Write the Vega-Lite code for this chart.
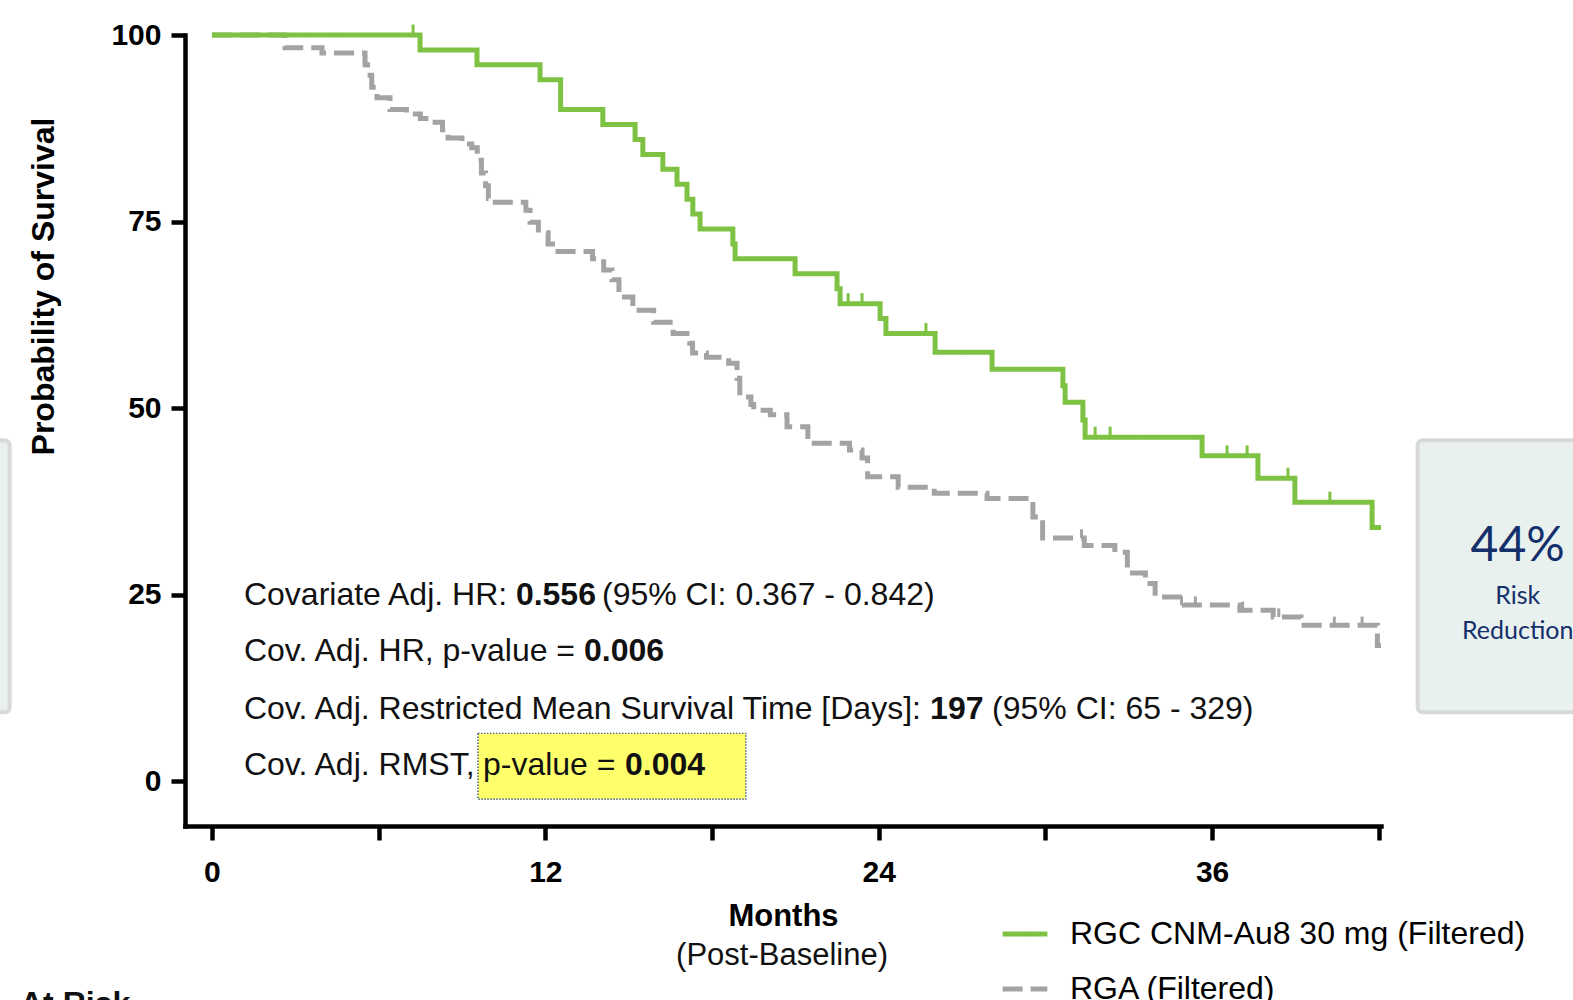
{
  "$schema": "https://vega.github.io/schema/vega-lite/v6.json",
  "width": 1196,
  "height": 791,
  "autosize": {"type": "none"},
  "padding": {"left": 185, "top": 35, "right": 192, "bottom": 174},
  "background": "white",
  "config": {
    "view": {"stroke": null},
    "font": "Liberation Sans",
    "axis": {"grid": false, "domainColor": "black", "tickColor": "black", "labelColor": "black", "titleColor": "black", "domainWidth": 4.5, "tickWidth": 4.5, "tickSize": 14, "labelFont": "Liberation Sans", "labelFontWeight": "bold", "labelFontSize": 30, "titleFont": "Liberation Sans", "titleFontWeight": "bold", "titleFontSize": 31, "domainCap": "square"}
  },
  "datasets": {
    "km": [
      {"s": "RGA (Filtered)", "x": 0, "y": 100},
      {"s": "RGA (Filtered)", "x": 2.63, "y": 98.3},
      {"s": "RGA (Filtered)", "x": 3.96, "y": 97.6},
      {"s": "RGA (Filtered)", "x": 5.51, "y": 96.0},
      {"s": "RGA (Filtered)", "x": 5.6, "y": 94.6},
      {"s": "RGA (Filtered)", "x": 5.75, "y": 93.0},
      {"s": "RGA (Filtered)", "x": 5.94, "y": 91.6},
      {"s": "RGA (Filtered)", "x": 6.41, "y": 90.0},
      {"s": "RGA (Filtered)", "x": 7.0, "y": 89.4},
      {"s": "RGA (Filtered)", "x": 7.5, "y": 88.8},
      {"s": "RGA (Filtered)", "x": 7.85, "y": 88.3},
      {"s": "RGA (Filtered)", "x": 8.3, "y": 87.3},
      {"s": "RGA (Filtered)", "x": 8.5, "y": 86.2},
      {"s": "RGA (Filtered)", "x": 9.0, "y": 85.4},
      {"s": "RGA (Filtered)", "x": 9.35, "y": 84.9},
      {"s": "RGA (Filtered)", "x": 9.55, "y": 83.2},
      {"s": "RGA (Filtered)", "x": 9.7, "y": 81.5},
      {"s": "RGA (Filtered)", "x": 9.85, "y": 79.8},
      {"s": "RGA (Filtered)", "x": 9.95, "y": 78.1},
      {"s": "RGA (Filtered)", "x": 10.2, "y": 77.6},
      {"s": "RGA (Filtered)", "x": 11.3, "y": 76.5},
      {"s": "RGA (Filtered)", "x": 11.45, "y": 74.9},
      {"s": "RGA (Filtered)", "x": 11.75, "y": 73.5},
      {"s": "RGA (Filtered)", "x": 12.1, "y": 72.0},
      {"s": "RGA (Filtered)", "x": 12.35, "y": 71.0},
      {"s": "RGA (Filtered)", "x": 13.7, "y": 70.0},
      {"s": "RGA (Filtered)", "x": 14.1, "y": 68.5},
      {"s": "RGA (Filtered)", "x": 14.4, "y": 67.2},
      {"s": "RGA (Filtered)", "x": 14.65, "y": 64.9},
      {"s": "RGA (Filtered)", "x": 15.15, "y": 63.1},
      {"s": "RGA (Filtered)", "x": 15.9, "y": 61.5},
      {"s": "RGA (Filtered)", "x": 16.6, "y": 60.0},
      {"s": "RGA (Filtered)", "x": 17.2, "y": 58.7},
      {"s": "RGA (Filtered)", "x": 17.3, "y": 57.4},
      {"s": "RGA (Filtered)", "x": 17.8, "y": 56.8},
      {"s": "RGA (Filtered)", "x": 18.6, "y": 56.0},
      {"s": "RGA (Filtered)", "x": 18.9, "y": 54.0},
      {"s": "RGA (Filtered)", "x": 19.0, "y": 51.5},
      {"s": "RGA (Filtered)", "x": 19.4, "y": 50.5},
      {"s": "RGA (Filtered)", "x": 19.5, "y": 49.7},
      {"s": "RGA (Filtered)", "x": 20.1, "y": 49.1},
      {"s": "RGA (Filtered)", "x": 20.7, "y": 47.5},
      {"s": "RGA (Filtered)", "x": 21.45, "y": 45.3},
      {"s": "RGA (Filtered)", "x": 22.95, "y": 44.4},
      {"s": "RGA (Filtered)", "x": 23.4, "y": 43.3},
      {"s": "RGA (Filtered)", "x": 23.6, "y": 40.8},
      {"s": "RGA (Filtered)", "x": 24.7, "y": 39.4},
      {"s": "RGA (Filtered)", "x": 26.0, "y": 38.6},
      {"s": "RGA (Filtered)", "x": 27.9, "y": 37.9},
      {"s": "RGA (Filtered)", "x": 29.55, "y": 35.4},
      {"s": "RGA (Filtered)", "x": 29.9, "y": 32.6},
      {"s": "RGA (Filtered)", "x": 31.4, "y": 31.6},
      {"s": "RGA (Filtered)", "x": 32.5, "y": 30.7},
      {"s": "RGA (Filtered)", "x": 32.95, "y": 27.9},
      {"s": "RGA (Filtered)", "x": 33.6, "y": 26.5},
      {"s": "RGA (Filtered)", "x": 33.95, "y": 24.7},
      {"s": "RGA (Filtered)", "x": 35.0, "y": 23.6},
      {"s": "RGA (Filtered)", "x": 37.0, "y": 22.9},
      {"s": "RGA (Filtered)", "x": 38.2, "y": 22.0},
      {"s": "RGA (Filtered)", "x": 39.2, "y": 20.9},
      {"s": "RGA (Filtered)", "x": 41.95, "y": 18.2},
      {"s": "RGA (Filtered)", "x": 42.08, "y": 18.2},
      {"s": "RGC CNM-Au8 30 mg (Filtered)", "x": 0, "y": 100},
      {"s": "RGC CNM-Au8 30 mg (Filtered)", "x": 7.49, "y": 98},
      {"s": "RGC CNM-Au8 30 mg (Filtered)", "x": 9.54, "y": 96},
      {"s": "RGC CNM-Au8 30 mg (Filtered)", "x": 11.81, "y": 94},
      {"s": "RGC CNM-Au8 30 mg (Filtered)", "x": 12.55, "y": 90},
      {"s": "RGC CNM-Au8 30 mg (Filtered)", "x": 14.07, "y": 88},
      {"s": "RGC CNM-Au8 30 mg (Filtered)", "x": 15.23, "y": 86},
      {"s": "RGC CNM-Au8 30 mg (Filtered)", "x": 15.51, "y": 84},
      {"s": "RGC CNM-Au8 30 mg (Filtered)", "x": 16.23, "y": 82},
      {"s": "RGC CNM-Au8 30 mg (Filtered)", "x": 16.74, "y": 80},
      {"s": "RGC CNM-Au8 30 mg (Filtered)", "x": 17.1, "y": 78},
      {"s": "RGC CNM-Au8 30 mg (Filtered)", "x": 17.31, "y": 76},
      {"s": "RGC CNM-Au8 30 mg (Filtered)", "x": 17.57, "y": 74},
      {"s": "RGC CNM-Au8 30 mg (Filtered)", "x": 18.75, "y": 72},
      {"s": "RGC CNM-Au8 30 mg (Filtered)", "x": 18.83, "y": 70},
      {"s": "RGC CNM-Au8 30 mg (Filtered)", "x": 20.99, "y": 68},
      {"s": "RGC CNM-Au8 30 mg (Filtered)", "x": 22.5, "y": 66},
      {"s": "RGC CNM-Au8 30 mg (Filtered)", "x": 22.61, "y": 64},
      {"s": "RGC CNM-Au8 30 mg (Filtered)", "x": 24.05, "y": 62},
      {"s": "RGC CNM-Au8 30 mg (Filtered)", "x": 24.26, "y": 60},
      {"s": "RGC CNM-Au8 30 mg (Filtered)", "x": 26.03, "y": 57.5},
      {"s": "RGC CNM-Au8 30 mg (Filtered)", "x": 28.08, "y": 55.2},
      {"s": "RGC CNM-Au8 30 mg (Filtered)", "x": 30.63, "y": 53},
      {"s": "RGC CNM-Au8 30 mg (Filtered)", "x": 30.71, "y": 50.8},
      {"s": "RGC CNM-Au8 30 mg (Filtered)", "x": 31.35, "y": 48.4},
      {"s": "RGC CNM-Au8 30 mg (Filtered)", "x": 31.43, "y": 46.1},
      {"s": "RGC CNM-Au8 30 mg (Filtered)", "x": 35.64, "y": 43.6},
      {"s": "RGC CNM-Au8 30 mg (Filtered)", "x": 37.65, "y": 40.6},
      {"s": "RGC CNM-Au8 30 mg (Filtered)", "x": 38.98, "y": 37.4},
      {"s": "RGC CNM-Au8 30 mg (Filtered)", "x": 41.76, "y": 34.0},
      {"s": "RGC CNM-Au8 30 mg (Filtered)", "x": 42.08, "y": 34.0}
    ],
    "censorGreen": [
      {"x": 7.24, "y": 100}, {"x": 22.9, "y": 64}, {"x": 23.4, "y": 64}, {"x": 25.7, "y": 60},
      {"x": 31.79, "y": 46.1}, {"x": 32.33, "y": 46.1}, {"x": 36.54, "y": 43.6}, {"x": 37.26, "y": 43.6},
      {"x": 38.73, "y": 40.6}, {"x": 40.24, "y": 37.4}
    ],
    "censorGrey": [
      {"x": 31.3, "y": 32.6}, {"x": 34.9, "y": 23.6}, {"x": 35.4, "y": 23.6},
      {"x": 37.1, "y": 22.9}, {"x": 38.4, "y": 22.0}, {"x": 40.4, "y": 20.9}, {"x": 41.4, "y": 20.9}
    ],
    "boxes": [
      {"x": 43.4, "x2": 49.6, "y": 45.71, "y2": 9.25},
      {"x": -8.6, "x2": -7.28, "y": 45.71, "y2": 9.25}
    ],
    "highlight": [{"x": 9.575, "x2": 19.22, "y": 6.43, "y2": -2.41}],
    "notes": [
      {"x": 1.152, "y": 24.93, "t": "Covariate Adj. HR:"},
      {"x": 14.04, "y": 24.93, "t": "(95% CI: 0.367 - 0.842)"},
      {"x": 1.152, "y": 17.43, "t": "Cov. Adj. HR, p-value ="},
      {"x": 1.152, "y": 9.65, "t": "Cov. Adj. Restricted Mean Survival Time [Days]:"},
      {"x": 28.08, "y": 9.65, "t": "(95% CI: 65 - 329)"},
      {"x": 1.152, "y": 2.14, "t": "Cov. Adj. RMST,"},
      {"x": 9.755, "y": 2.14, "t": "p-value ="}
    ],
    "notesBold": [
      {"x": 10.94, "y": 24.93, "t": "0.556"},
      {"x": 13.39, "y": 17.43, "t": "0.006"},
      {"x": 25.85, "y": 9.65, "t": "197"},
      {"x": 14.87, "y": 2.14, "t": "0.004"}
    ],
    "subtitle": [{"x": 20.52, "y": -23.4, "t": "(Post-Baseline)"}],
    "atRisk": [{"x": -6.91, "y": -27.9, "t": "At Risk"}],
    "bigPct": [{"x": 47.0, "y": 31.4, "t": "44%"}],
    "boxText": [{"x": 47.0, "y": 24.8, "t": "Risk"}, {"x": 47.0, "y": 20.1, "t": "Reduction"}]
  },
  "encoding": {
    "x": {"field": "x", "type": "quantitative", "scale": {"domain": [-0.97, 42.08], "nice": false, "zero": false},
      "axis": {"values": [0, 6, 12, 18, 24, 30, 36, 42], "labelExpr": "datum.value % 12 == 0 ? datum.label : ''", "labelPadding": 17, "title": "Months", "titlePadding": 14, "labelFlush": false}},
    "y": {"field": "y", "type": "quantitative", "scale": {"domain": [-6, 100], "nice": false, "zero": false},
      "axis": {"values": [0, 25, 50, 75, 100], "labelPadding": 10, "title": "Probability of Survival", "titleFontSize": 32, "titleY": 251, "titlePadding": 50, "labelFlush": false}}
  },
  "layer": [
    {"data": {"name": "boxes"}, "mark": {"type": "rect", "fill": "#E9F1EF", "stroke": "#D8D9D9", "strokeWidth": 4, "cornerRadius": 5},
      "encoding": {"x2": {"field": "x2"}, "y2": {"field": "y2"}}},
    {"data": {"name": "highlight"}, "mark": {"type": "rect", "fill": "#FFFF6B", "stroke": "#1F3A8A", "strokeWidth": 1.2, "strokeDash": [1.5, 1.5]},
      "encoding": {"x2": {"field": "x2"}, "y2": {"field": "y2"}}},
    {"data": {"name": "censorGrey"}, "mark": {"type": "point", "shape": "M0,0L0,-1", "size": 300, "filled": false, "stroke": "#A3A3A3", "strokeWidth": 3, "opacity": 1}},
    {"data": {"name": "km"}, "mark": {"type": "line", "interpolate": "step-after", "strokeWidth": 5, "strokeCap": "butt"},
      "encoding": {
        "color": {"field": "s", "type": "nominal", "scale": {"domain": ["RGC CNM-Au8 30 mg (Filtered)", "RGA (Filtered)"], "range": ["#7DC242", "#A3A3A3"]},
          "legend": {"orient": "none", "legendX": 815, "legendY": 874, "title": null, "labelFontSize": 32, "labelFont": "Liberation Sans", "labelColor": "black", "labelLimit": 700, "symbolStrokeWidth": 5, "symbolSize": 2000, "labelOffset": 20, "rowPadding": 14, "symbolType": "stroke"}},
        "strokeDash": {"field": "s", "type": "nominal", "scale": {"domain": ["RGC CNM-Au8 30 mg (Filtered)", "RGA (Filtered)"], "range": [[1, 0], [20, 8]]},
          "legend": {"orient": "none", "legendX": 815, "legendY": 874, "title": null, "labelFontSize": 32, "labelFont": "Liberation Sans", "labelColor": "black", "labelLimit": 700, "symbolStrokeWidth": 5, "symbolSize": 2000, "labelOffset": 20, "rowPadding": 14, "symbolType": "stroke"}}
      }},
    {"data": {"name": "censorGreen"}, "mark": {"type": "point", "shape": "M0,0L0,-1", "size": 440, "filled": false, "stroke": "#7DC242", "strokeWidth": 3, "opacity": 1}},
    {"data": {"name": "notes"}, "mark": {"type": "text", "align": "left", "baseline": "middle", "font": "Liberation Sans", "fontSize": 32, "color": "#111111"},
      "encoding": {"text": {"field": "t"}}},
    {"data": {"name": "notesBold"}, "mark": {"type": "text", "align": "left", "baseline": "middle", "font": "Liberation Sans", "fontSize": 32, "fontWeight": "bold", "color": "#111111"},
      "encoding": {"text": {"field": "t"}}},
    {"data": {"name": "subtitle"}, "mark": {"type": "text", "align": "center", "baseline": "middle", "font": "Liberation Sans", "fontSize": 31, "color": "#111111"},
      "encoding": {"text": {"field": "t"}}},
    {"data": {"name": "atRisk"}, "mark": {"type": "text", "align": "left", "baseline": "top", "font": "Liberation Sans", "fontSize": 32, "fontWeight": "bold", "color": "#111111"},
      "encoding": {"text": {"field": "t"}}},
    {"data": {"name": "bigPct"}, "mark": {"type": "text", "align": "center", "baseline": "middle", "font": "Lato", "fontSize": 48, "color": "#14306B"},
      "encoding": {"text": {"field": "t"}}},
    {"data": {"name": "boxText"}, "mark": {"type": "text", "align": "center", "baseline": "middle", "font": "Lato", "fontSize": 25, "color": "#14306B"},
      "encoding": {"text": {"field": "t"}}}
  ]
}
